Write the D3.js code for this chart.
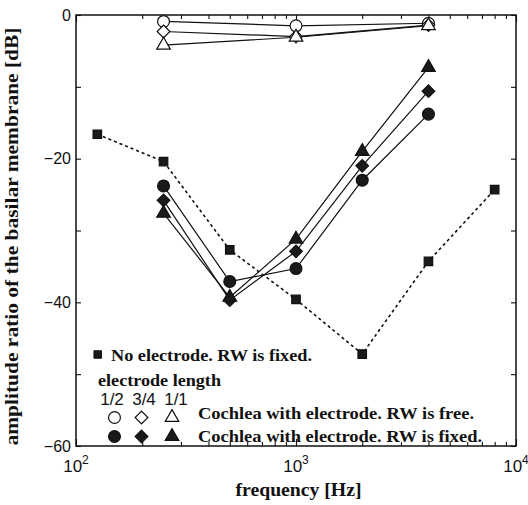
<!DOCTYPE html>
<html>
<head>
<meta charset="utf-8">
<script src="https://cdn.jsdelivr.net/npm/d3@7"></script>
<style>
  html, body { margin: 0; padding: 0; background: #fff; }
  svg { display: block; }
</style>
</head>
<body>
<svg id="chart" width="528" height="505"></svg>
<script>
// Frequencies [Hz]
const freqNoElectrode = [125, 250, 500, 1000, 2000, 4000, 8000];
const freqFree = [250, 1000, 4000];
const freqFixed = [250, 500, 1000, 2000, 4000];

// Amplitude ratio of the basilar membrane [dB]
const noElectrode = [-16.6, -20.4, -32.7, -39.6, -47.2, -34.3, -24.3];

// Round window free, electrode length 1/2, 3/4, 1/1
const freeHalf = [-0.9, -1.5, -1.15];
const freeThreeQuarter = [-2.3, -3.0, -1.4];
const freeFull = [-4.2, -3.1, -1.5];

// Round window fixed, electrode length 1/2, 3/4, 1/1
const fixedHalf = [-23.8, -37.1, -35.3, -23.0, -13.8];
const fixedThreeQuarter = [-25.8, -39.7, -32.9, -21.0, -10.6];
const fixedFull = [-27.6, -39.3, -31.2, -19.0, -7.3];

// Axis ticks and labels
const xMajorTicks = [100, 1000, 10000];
const xMajorExponents = ["2", "3", "4"];
const yTicks = [0, -10, -20, -30, -40, -50, -60];
const yTickLabels = [0, -20, -40, -60];
const lengthLabels = ["1/2", "3/4", "1/1"];

const svg = d3.select("#chart");
const plotLeft = 76, plotRight = 516, plotTop = 15, plotBottom = 446;

const x = d3.scaleLog().domain([100, 10000]).range([plotLeft, plotRight]);
const y = d3.scaleLinear().domain([-60, 0]).range([plotBottom, plotTop]);

const serif = "'Liberation Serif', 'Times New Roman', serif";
const sans = "'Liberation Sans', Arial, Helvetica, sans-serif";
const ink = "#111";

// minor ticks on the log axis
const xMinor = [];
[100, 1000].forEach(d => { for (let k = 2; k <= 9; k++) xMinor.push(d * k); });

// bottom axis: inward ticks
const gBottom = svg.append("g").attr("transform", `translate(0,${plotBottom})`);
gBottom.call(d3.axisBottom(x).tickValues(xMinor).tickSize(-4).tickFormat(""));
gBottom.append("g").call(d3.axisBottom(x).tickValues(xMajorTicks).tickSize(-7).tickFormat(""));
// top axis
const gTop = svg.append("g").attr("transform", `translate(0,${plotTop})`);
gTop.call(d3.axisTop(x).tickValues(xMinor).tickSize(-4).tickFormat(""));
gTop.append("g").call(d3.axisTop(x).tickValues(xMajorTicks).tickSize(-7).tickFormat(""));
// left / right axes
svg.append("g").attr("transform", `translate(${plotLeft},0)`)
  .call(d3.axisLeft(y).tickValues(yTicks).tickSize(-5).tickFormat(""));
svg.append("g").attr("transform", `translate(${plotRight},0)`)
  .call(d3.axisRight(y).tickValues(yTicks).tickSize(-5).tickFormat(""));

svg.selectAll(".domain").remove();
svg.selectAll(".tick line").attr("stroke", ink).attr("stroke-width", 1.1);

// frame
svg.append("rect")
  .attr("x", plotLeft).attr("y", plotTop)
  .attr("width", plotRight - plotLeft).attr("height", plotBottom - plotTop)
  .attr("fill", "none").attr("stroke", ink).attr("stroke-width", 1.5);

// y tick labels
svg.append("g").selectAll("text").data(yTickLabels).join("text")
  .attr("x", plotLeft - 5).attr("y", d => y(d))
  .attr("dy", "0.36em")
  .attr("text-anchor", "end")
  .attr("font-family", sans).attr("font-size", 16).attr("fill", ink)
  .text(d => d === 0 ? "0" : "\u2212" + Math.abs(d));

// x tick labels 10^n
const xl = svg.append("g").selectAll("text").data(xMajorTicks).join("text")
  .attr("x", d => x(d)).attr("y", 472)
  .attr("text-anchor", "middle")
  .attr("font-family", sans).attr("font-size", 17).attr("fill", ink);
xl.append("tspan").text("10");
xl.append("tspan").attr("dy", -8).attr("font-size", 12).text((d, i) => xMajorExponents[i]);

// axis titles
svg.append("text")
  .attr("transform", `translate(18,${(plotTop + plotBottom) / 2 + 6}) rotate(-90)`)
  .attr("text-anchor", "middle")
  .attr("font-family", serif).attr("font-weight", "bold").attr("font-size", 18)
  .attr("textLength", 418).attr("lengthAdjust", "spacingAndGlyphs")
  .attr("fill", ink)
  .text("amplitude ratio of the basilar membrane [dB]");

svg.append("text")
  .attr("x", 298.5).attr("y", 496)
  .attr("text-anchor", "middle")
  .attr("font-family", serif).attr("font-weight", "bold").attr("font-size", 18)
  .attr("textLength", 126).attr("lengthAdjust", "spacingAndGlyphs")
  .attr("fill", ink)
  .text("frequency [Hz]");

// marker generators
const sym = {
  circle: d3.symbol().type(d3.symbolCircle).size(110),
  diamond: d3.symbol().type(d3.symbolSquare).size(80),
  triangle: d3.symbol().type(d3.symbolTriangle).size(80),
  square: d3.symbol().type(d3.symbolSquare).size(72)
};
const rot = { circle: 0, diamond: 45, triangle: 0, square: 0 };

const line = d3.line().x(d => x(d[0])).y(d => y(d[1]));

function drawSeries(freqs, vals, dashed) {
  const pts = freqs.map((f, i) => [f, vals[i]]);
  svg.append("path")
    .datum(pts)
    .attr("d", line)
    .attr("fill", "none")
    .attr("stroke", ink)
    .attr("stroke-width", dashed ? 1.6 : 1.2)
    .attr("stroke-dasharray", dashed ? "3,3" : null);
  return pts;
}

function drawMarkers(pts, shape, filled) {
  svg.append("g").selectAll("path").data(pts).join("path")
    .attr("d", sym[shape]())
    .attr("transform", d => `translate(${x(d[0])},${y(d[1])}) rotate(${rot[shape]})`)
    .attr("fill", filled ? "#1a1a1a" : "#fff")
    .attr("stroke", ink)
    .attr("stroke-width", 1.2);
}

const series = [
  [freqNoElectrode, noElectrode, "square", true, true],
  [freqFixed, fixedHalf, "circle", true, false],
  [freqFixed, fixedThreeQuarter, "diamond", true, false],
  [freqFixed, fixedFull, "triangle", true, false],
  [freqFree, freeHalf, "circle", false, false],
  [freqFree, freeThreeQuarter, "diamond", false, false],
  [freqFree, freeFull, "triangle", false, false]
];
const allPts = series.map(s => drawSeries(s[0], s[1], s[4]));
series.forEach((s, i) => drawMarkers(allPts[i], s[2], s[3]));

// legend
const lg = svg.append("g");
lg.append("path")
  .attr("d", d3.symbol().type(d3.symbolSquare).size(56)())
  .attr("transform", "translate(97.7,354.5)")
  .attr("fill", "#1a1a1a").attr("stroke", ink);
lg.append("text")
  .attr("x", 111).attr("y", 361)
  .attr("font-family", serif).attr("font-weight", "bold").attr("font-size", 17)
  .attr("textLength", 201).attr("lengthAdjust", "spacingAndGlyphs")
  .attr("fill", ink)
  .text("No electrode. RW is fixed.");
lg.append("text")
  .attr("x", 98).attr("y", 386)
  .attr("font-family", serif).attr("font-weight", "bold").attr("font-size", 17)
  .attr("textLength", 123).attr("lengthAdjust", "spacingAndGlyphs")
  .attr("fill", ink)
  .text("electrode length");

const labelX = [112, 144, 176];
lg.append("g").selectAll("text").data(lengthLabels).join("text")
  .attr("x", (d, i) => labelX[i]).attr("y", 405)
  .attr("text-anchor", "middle")
  .attr("font-family", sans).attr("font-size", 17).attr("fill", ink)
  .text(d => d);

const markerX = [114.5, 141.5, 172];
const legendShapes = ["circle", "diamond", "triangle"];
[[417.5, false], [436.5, true]].forEach(([ly, filled]) => {
  lg.append("g").selectAll("path").data(legendShapes).join("path")
    .attr("d", d => sym[d]())
    .attr("transform", (d, i) => `translate(${markerX[i]},${ly}) rotate(${rot[d]})`)
    .attr("fill", filled ? "#1a1a1a" : "#fff")
    .attr("stroke", ink).attr("stroke-width", 1.2);
});
lg.append("text")
  .attr("x", 198).attr("y", 419)
  .attr("font-family", serif).attr("font-weight", "bold").attr("font-size", 17)
  .attr("textLength", 276).attr("lengthAdjust", "spacingAndGlyphs")
  .attr("fill", ink)
  .text("Cochlea with electrode. RW is free.");
lg.append("text")
  .attr("x", 198).attr("y", 441.5)
  .attr("font-family", serif).attr("font-weight", "bold").attr("font-size", 17)
  .attr("textLength", 284).attr("lengthAdjust", "spacingAndGlyphs")
  .attr("fill", ink)
  .text("Cochlea with electrode. RW is fixed.");
</script>
</body>
</html>
